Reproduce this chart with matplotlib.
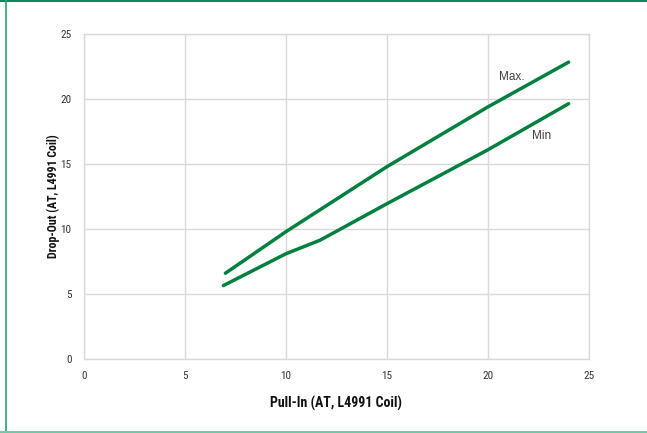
import matplotlib
matplotlib.use("Agg")
import matplotlib.pyplot as plt
from matplotlib.lines import Line2D

max_x = [7.0, 10.0, 15.0, 20.0, 24.0]
max_y = [6.6, 9.8, 14.8, 19.4, 22.85]
min_x = [6.9, 10.0, 11.7, 15.0, 20.0, 24.0]
min_y = [5.65, 8.1, 9.15, 11.95, 16.1, 19.65]

x_ticks = [0, 5, 10, 15, 20, 25]
y_ticks = [0, 5, 10, 15, 20, 25]

narrow = "Roboto Condensed"
green = "#00803f"
grid_c = "#d9d9d9"

fig = plt.figure(figsize=(6.47, 4.33), dpi=100)
ax = fig.add_axes([0.130, 0.171, 0.780, 0.750])

ax.plot(max_x, max_y, color=green, lw=2.5, solid_capstyle="round", solid_joinstyle="round")
ax.plot(min_x, min_y, color=green, lw=2.5, solid_capstyle="round", solid_joinstyle="round")

ax.set_xlim(0, 25)
ax.set_ylim(0, 25)
ax.set_xticks(x_ticks)
ax.set_yticks(y_ticks)
ax.grid(True, color=grid_c, lw=1.0)
ax.set_axisbelow(True)
for s in ax.spines.values():
    s.set_color(grid_c)
    s.set_linewidth(1.0)
ax.tick_params(length=0, colors="#333333", labelsize=8)
ax.tick_params(axis="y", pad=9)
ax.tick_params(axis="x", pad=9)
for lab in ax.get_xticklabels() + ax.get_yticklabels():
    lab.set_family(narrow)

ax.set_xlabel("Pull-In (AT, L4991 Coil)", family=narrow, fontweight="bold", fontsize=10, color="#111111")
ax.set_ylabel("Drop-Out (AT, L4991 Coil)", family=narrow, fontweight="bold", fontsize=8.6, color="#111111")
ax.xaxis.set_label_coords(0.5, -0.113)
ax.yaxis.set_label_coords(-0.047, 0.5)

ax.text(20.55, 21.7, "Max.", fontsize=8.5, color="#404040", va="center", ha="left", family="Liberation Sans")
ax.text(22.2, 17.2, "Min", fontsize=8.5, color="#404040", va="center", ha="left", family="Liberation Sans")

# figure border
fig.add_artist(Line2D([0, 1], [0.998, 0.998], transform=fig.transFigure, color="#0a8a5a", lw=1.5))
fig.add_artist(Line2D([5.5/647, 5.5/647], [0, 1], transform=fig.transFigure, color="#2aa070", lw=1.2))
fig.add_artist(Line2D([0, 1], [1.5/433, 1.5/433], transform=fig.transFigure, color="#6ccaa4", lw=1.5))

fig.savefig("out.png", dpi=100)
